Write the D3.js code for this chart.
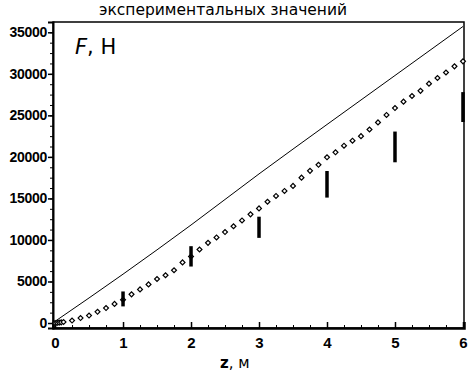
<!DOCTYPE html>
<html>
<head>
<meta charset="utf-8">
<script src="https://cdn.jsdelivr.net/npm/d3@7"></script>
<style>
  body { margin: 0; background: #fff; }
  text { font-family: "Liberation Sans", Arial, sans-serif; }
  .lbl { font-family: "DejaVu Sans", Verdana, sans-serif; }
</style>
</head>
<body>
<div id="chart"></div>
<script>
// calculated curve (solid line)
const lineZ = [0, 1, 2, 3, 4, 5, 6];
const lineF = [200, 5880, 11800, 17950, 23900, 29800, 35700];

// calculated points (diamonds)
const dotZ = [0, 0.03, 0.06, 0.09, 0.125, 0.25, 0.375, 0.5, 0.625, 0.75, 0.875, 1,
  1.125, 1.25, 1.375, 1.5, 1.625, 1.75, 1.875, 2, 2.125, 2.25, 2.375, 2.5,
  2.625, 2.75, 2.875, 3, 3.125, 3.25, 3.375, 3.5, 3.625, 3.75, 3.875, 4,
  4.125, 4.25, 4.375, 4.5, 4.625, 4.75, 4.875, 5, 5.125, 5.25, 5.375, 5.5,
  5.625, 5.75, 5.875, 6];
const dotF = [0, 20, 50, 80, 120, 300, 600, 900, 1350, 1800, 2300, 2800,
  3450, 4050, 4650, 5300, 5750, 6350, 7300, 8000, 8850, 9650, 10300, 10950,
  11650, 12350, 13080, 13800, 14600, 15300, 15900, 16510, 17500, 18320, 19050, 19950,
  20550, 21350, 21950, 22500, 23300, 24150, 25050, 25880, 26650, 27330, 27950, 28820,
  29500, 30160, 30900, 31500];

// experimental ranges (bars)
const expZ = [1, 2, 3, 4, 5, 6];
const expLow = [2000, 6800, 10250, 15100, 19350, 24200];
const expHigh = [3800, 9250, 12800, 18300, 23050, 27800];

const xTicks = [0, 1, 2, 3, 4, 5, 6];
const yTicks = [0, 5000, 10000, 15000, 20000, 25000, 30000, 35000];

const width = 475, height = 373;
const pLeft = 53, pRight = 464, pTop = 22, pBottom = 328;

const svg = d3.select("#chart").append("svg")
  .attr("width", width)
  .attr("height", height);

const x = d3.scaleLinear().domain([-0.03, 6.015]).range([pLeft, pRight]);
const y = d3.scaleLinear().domain([-600, 36240]).range([pBottom, pTop]);

// frame
svg.append("rect")
  .attr("x", pLeft).attr("y", pTop)
  .attr("width", pRight - pLeft).attr("height", pBottom - pTop)
  .attr("fill", "none").attr("stroke", "#000").attr("stroke-width", 1.5);

// minor ticks
const xMinor = d3.range(0, 6.001, 0.25);
const yMinor = d3.range(0, 35001, 1250);
svg.append("g").attr("transform", `translate(0,${pBottom})`)
  .call(d3.axisTop(x).tickValues(xMinor).tickSize(3).tickFormat(""))
  .call(g => g.select(".domain").remove());
svg.append("g").attr("transform", `translate(${pLeft},0)`)
  .call(d3.axisLeft(y).tickValues(yMinor).tickSize(3).tickFormat(""))
  .call(g => g.select(".domain").remove());

// major ticks
const xAxis = svg.append("g").attr("transform", `translate(0,${pBottom})`)
  .call(d3.axisTop(x).tickValues(xTicks).tickSize(6).tickFormat(d3.format("d")));
xAxis.select(".domain").attr("stroke-width", 2.5);
xAxis.selectAll(".tick line").attr("stroke-width", 1.5);
xAxis.selectAll(".tick text")
  .attr("y", 20)
  .attr("dy", 0)
  .style("font-size", "15px").style("font-weight", "bold");

const yAxis = svg.append("g").attr("transform", `translate(${pLeft},0)`)
  .call(d3.axisLeft(y).tickValues(yTicks).tickSize(5).tickFormat(d3.format("d")));
yAxis.select(".domain").attr("stroke-width", 2);
yAxis.selectAll(".tick line").attr("stroke-width", 1.5);
yAxis.selectAll(".tick text")
  .attr("x", -6)
  .style("font-size", "14px").style("font-weight", "bold")
  .style("letter-spacing", "-0.3px");

// solid line
const line = d3.line().x(d => x(d[0])).y(d => y(d[1])).curve(d3.curveMonotoneX);
svg.append("path")
  .datum(lineZ.map((z, i) => [z, lineF[i]]))
  .attr("d", line)
  .attr("fill", "none").attr("stroke", "#000").attr("stroke-width", 1);

// diamonds (small squares turned 45 degrees)
svg.append("g").selectAll("path")
  .data(dotZ.map((z, i) => [z, dotF[i]]))
  .join("path")
  .attr("d", d3.symbol().type(d3.symbolSquare).size(12))
  .attr("transform", d => `translate(${x(d[0])},${y(d[1])}) rotate(45)`)
  .attr("fill", "#fff").attr("stroke", "#000").attr("stroke-width", 1.2);

// experimental bars
svg.append("g").selectAll("line")
  .data(expZ.map((z, i) => ({ z, lo: expLow[i], hi: expHigh[i] })))
  .join("line")
  .attr("x1", d => x(d.z)).attr("x2", d => x(d.z))
  .attr("y1", d => y(d.lo)).attr("y2", d => y(d.hi))
  .attr("stroke", "#000").attr("stroke-width", 3.5);

// texts
svg.append("text")
  .attr("class", "lbl")
  .attr("x", 223).attr("y", 15)
  .attr("text-anchor", "middle")
  .style("font-size", "15.5px")
  .text("экспериментальных значений");

const fl = svg.append("text").attr("class", "lbl")
  .attr("x", 75).attr("y", 54).style("font-size", "21px");
fl.append("tspan").style("font-style", "italic").text("F");
fl.append("tspan").text(", Н");

const zl = svg.append("text").attr("class", "lbl")
  .attr("x", 220).attr("y", 368).style("font-size", "15px");
zl.append("tspan").style("font-weight", "bold").text("z");
zl.append("tspan").text(", м");
</script>
</body>
</html>
